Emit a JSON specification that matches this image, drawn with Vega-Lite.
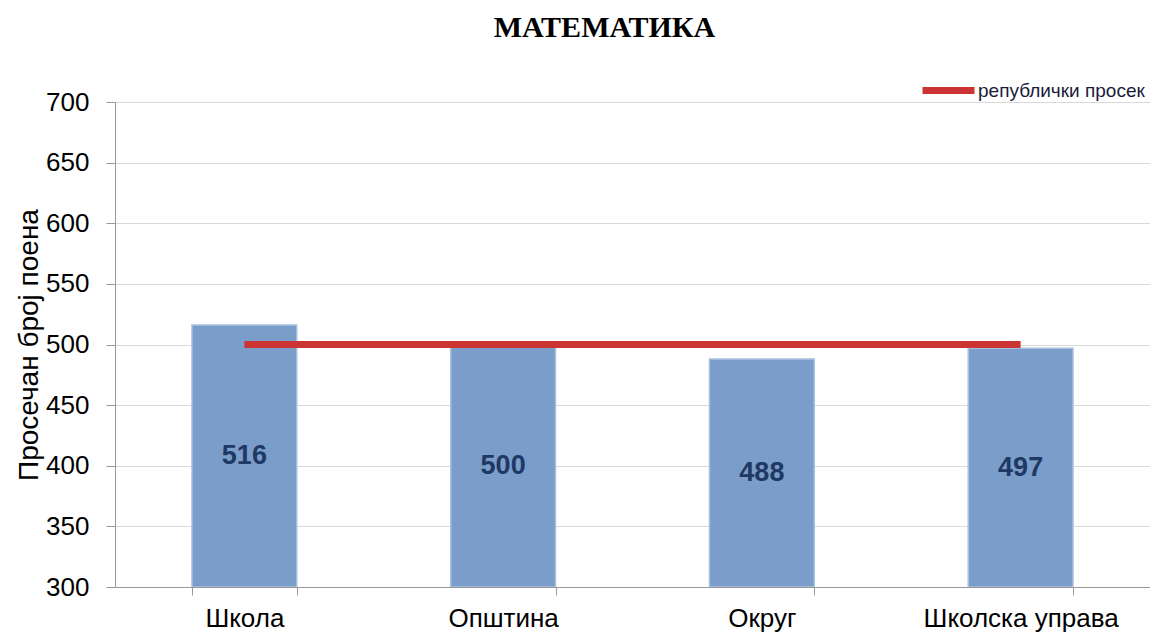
{
  "$schema": "https://vega.github.io/schema/vega-lite/v6.json",
  "autosize": {"type": "none"},
  "padding": {"left": 115, "top": 102, "right": 0, "bottom": 52},
  "width": 1035,
  "height": 485,
  "background": "white",
  "title": {
    "text": "МАТЕМАТИКА",
    "font": "Liberation Serif",
    "fontSize": 30,
    "fontWeight": "bold",
    "color": "#000000",
    "anchor": "middle",
    "dx": -28,
    "offset": 18
  },
  "datasets": {
    "bars": [
      {"category": "Школа", "value": 516},
      {"category": "Општина", "value": 500},
      {"category": "Округ", "value": 488},
      {"category": "Школска управа", "value": 497}
    ],
    "avg": [
      {"from": "Школа", "to": "Школска управа", "value": 500, "series": "републички просек"}
    ]
  },
  "layer": [
    {
      "data": {"name": "bars"},
      "mark": {"type": "bar", "fill": "#7b9dc9", "stroke": "#a9c1e0", "strokeWidth": 1.5, "clip": true},
      "encoding": {
        "x": {
          "field": "category", "type": "nominal", "sort": null,
          "scale": {"paddingInner": 0.595, "paddingOuter": 0.2975},
          "axis": {
            "title": null, "labelAngle": 0, "labelFont": "Liberation Sans", "labelFontSize": 26,
            "labelColor": "#000000", "labelPadding": 10, "labelLimit": 0, "tickBand": "extent", "tickSize": 8,
            "tickColor": "#999999", "domainColor": "#999999", "grid": false
          }
        },
        "y": {
          "field": "value", "type": "quantitative",
          "scale": {"domain": [300, 700], "nice": false, "zero": false},
          "axis": {
            "title": "Просечан број поена", "titleFont": "Liberation Sans", "titleFontSize": 28,
            "titleFontWeight": "normal", "titleColor": "#000000", "titlePadding": 2,
            "values": [300, 350, 400, 450, 500, 550, 600, 650, 700],
            "labelFont": "Liberation Sans", "labelFontSize": 26, "labelColor": "#000000",
            "labelPadding": 17, "tickSize": 9, "tickColor": "#999999", "domainColor": "#999999",
            "grid": true, "gridColor": "#d9d9d9"
          }
        },
        "y2": {"datum": 300}
      }
    },
    {
      "data": {"name": "bars"},
      "transform": [{"calculate": "(datum.value + 300) / 2", "as": "mid"}],
      "mark": {"type": "text", "font": "Liberation Sans", "fontSize": 27, "fontWeight": "bold", "color": "#1f3864"},
      "encoding": {
        "x": {"field": "category", "type": "nominal", "sort": null},
        "y": {"field": "mid", "type": "quantitative"},
        "text": {"field": "value", "type": "quantitative"}
      }
    },
    {
      "data": {"name": "avg"},
      "mark": {"type": "rule", "strokeWidth": 7},
      "encoding": {
        "x": {"field": "from", "type": "nominal", "sort": null},
        "x2": {"field": "to"},
        "y": {"field": "value", "type": "quantitative"},
        "color": {
          "field": "series", "type": "nominal",
          "scale": {"range": ["#cc3333"]},
          "legend": {
            "title": null, "orient": "none", "legendX": 804, "legendY": -41,
            "symbolType": "stroke", "symbolStrokeWidth": 7, "symbolSize": 2704,
            "labelFont": "Liberation Sans", "labelFontSize": 19, "labelColor": "#1a1a3a",
            "labelOffset": 0, "labelLimit": 0, "padding": 0
          }
        }
      }
    }
  ]
}
